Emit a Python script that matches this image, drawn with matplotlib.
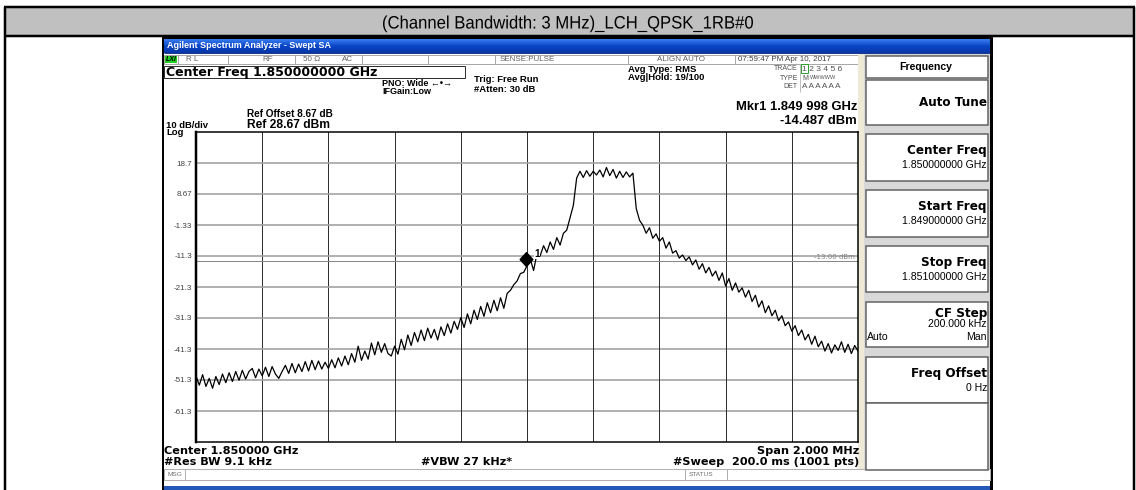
import matplotlib
matplotlib.use('Agg')
import matplotlib.pyplot as plt
import numpy as np
from matplotlib.patches import Rectangle, PathPatch
from matplotlib.path import Path
from matplotlib.markers import MarkerStyle
from matplotlib.textpath import TextPath
from matplotlib.font_manager import FontProperties
from matplotlib.transforms import Affine2D

# ---------------- data ----------------
title_text = "(Channel Bandwidth: 3 MHz)_LCH_QPSK_1RB#0"
start_ghz = 1.849
stop_ghz = 1.851
ref_level = 28.67
db_per_div = 10
n_div = 10
display_line_dbm = -13.00
marker_freq_ghz = 1.849998
marker_dbm = -14.487

ytick_values = [18.67, 8.67, -1.33, -11.33, -21.33, -31.33, -41.33, -51.33, -61.33]
ytick_labels = ["18.7", "8.67", "-1.33", "-11.3", "-21.3", "-31.3", "-41.3", "-51.3", "-61.3"]

# trace levels (dBm) read every 10 kHz from 1.849 GHz to 1.851 GHz
trace_left = [
    -50.0, -53.0, -49.6, -53.4, -50.8, -54.0, -50.2, -52.8, -49.4, -52.2,
    -49.0, -51.8, -48.6, -51.4, -48.2, -51.0, -48.6, -47.6, -50.6, -47.8,
    -50.0, -47.2, -50.2, -47.0, -49.4, -50.8, -48.6, -46.6, -49.2, -46.0,
    -49.0, -46.2, -48.6, -45.4, -48.4, -45.0, -48.0, -45.2, -47.8, -45.6,
    -47.6, -44.8, -47.4, -44.2, -46.8, -43.6, -46.4, -42.8, -45.6, -40.4,
    -45.0, -42.0, -44.6, -39.4, -43.2, -39.0, -42.4, -39.6, -42.8, -43.6,
    -40.4, -43.0, -38.2, -41.6, -36.8, -40.2, -36.0, -39.0, -35.2, -38.6,
    -34.6, -37.8, -35.0, -38.4, -34.2, -37.0, -33.2, -36.2, -32.4, -35.0,
    -31.2, -34.4, -30.0, -33.2, -28.8, -31.8, -27.6, -30.8, -26.4, -29.6,
    -25.6, -29.0, -24.8, -28.2, -23.4, -22.4, -20.6, -19.4, -17.0, -16.6,
]
trace_centre = [
    -14.5, -12.4, -16.0, -10.6, -11.2, -8.0, -10.2, -6.8, -9.2, -5.4,
    -7.8, -4.0, -3.0, 1.0, 5.0, 13.8, 16.0, 14.0, 16.2, 14.4,
    16.0, 14.8, 16.4, 14.2, 17.2, 14.6, 16.6, 13.8, 16.0, 14.0,
    15.8, 14.2, 15.4, 4.0, 0.2, -1.4, -4.0, -2.2, -5.6, -4.2,
]
trace_right = [
    -6.6, -5.4, -8.8, -6.8, -10.4, -9.6, -12.0, -11.0, -12.8, -11.6,
    -14.2, -12.6, -15.6, -13.8, -16.8, -15.0, -17.8, -16.2, -19.2, -16.8,
    -21.0, -18.6, -22.4, -20.0, -23.0, -21.6, -24.6, -22.4, -26.0, -24.0,
    -27.8, -25.8, -29.6, -27.4, -30.6, -28.8, -32.2, -30.6, -33.8, -32.6,
    -35.6, -33.8, -37.0, -35.2, -38.4, -36.6, -39.8, -37.2, -40.6, -38.8,
    -42.0, -39.6, -42.6, -40.0, -41.8, -39.0, -42.4, -39.8, -42.8, -40.2,
    -42.0,
]
trace_dbm = trace_left + trace_centre + trace_right
trace_freq = np.linspace(start_ghz, stop_ghz, len(trace_dbm))

# ---------------- figure ----------------
W, H = 1136, 490
fig = plt.figure(figsize=(W / 100, H / 100), dpi=100)
fig.patch.set_facecolor('white')
bg = fig.add_axes([0, 0, 1, 1])
bg.set_xlim(0, W)
bg.set_ylim(H, 0)
bg.axis('off')

def pt(p):
    return p * 0.72

def T(x, y, s, size, weight='normal', ha='left', va='center', color='black',
      family='DejaVu Sans', **kw):
    return bg.text(x, y, s, fontsize=pt(size), fontweight=weight, ha=ha, va=va,
                   color=color, family=family, zorder=5, **kw)

def R(x0, y0, x1, y1, fc='none', ec='none', lw=1.0, z=1):
    bg.add_patch(Rectangle((x0, y0), x1 - x0, y1 - y0, facecolor=fc,
                           edgecolor=ec, linewidth=pt(lw), zorder=z))

def L(x0, y0, x1, y1, color='black', lw=1.0, z=2):
    bg.plot([x0, x1], [y0, y1], color=color, lw=pt(lw), zorder=z,
            solid_capstyle='butt')

# outer table
R(5, 7, 1134, 36, fc='#c0c0c0', z=1)
L(4, 7, 1135, 7, lw=2.5)
L(4, 36, 1135, 36, lw=2.5)
L(5, 7, 5, 490, lw=2.5)
L(1134, 7, 1134, 490, lw=2.5)

# condensed title (horizontally squeezed text path)
tp = TextPath((0, 0), title_text, size=18, prop=FontProperties(family='Liberation Sans'))
ext = tp.get_extents()
target_w = 370.0
sx = target_w / ext.width
tr = Affine2D().translate(-ext.x0 - ext.width / 2, 0).scale(sx, -1).translate(568, 28.5)
bg.add_patch(PathPatch(tr.transform_path(tp), facecolor='black', edgecolor='none',
                       lw=0, zorder=5))

# screenshot frame
R(162, 37, 993, 490, fc='black', z=1)
R(164, 53, 990, 487, fc='white', z=1)
grad = np.linspace(0, 1, 50).reshape(-1, 1)
cmap = matplotlib.colors.LinearSegmentedColormap.from_list('b', ['#3a7ef0', '#0a46c8', '#0836a8'])
bg.imshow(grad, extent=(164, 990, 53, 39), aspect='auto', cmap=cmap, zorder=2)
T(167, 46, "Agilent Spectrum Analyzer - Swept SA", 9, weight='bold', color='white',
  family='Liberation Sans')
L(164, 53, 990, 53, color='#1a3a8a', lw=1)

# status row
R(164, 55, 858, 64, fc='white', ec='#a8a8a8', lw=1, z=2)
for xs in [178, 228, 295, 362, 428, 495, 628, 735]:
    L(xs, 55, xs, 64, color='#a8a8a8', lw=1, z=3)
R(165, 56, 177, 63, fc='#22d022', z=3)
T(166, 59.7, "LXI", 7, weight='bold', style='italic', family='Liberation Sans')
T(186, 59.7, "R L", 8, color='#606060', family='Liberation Sans')
T(262, 59.7, "RF", 8, color='#606060', family='Liberation Sans')
T(303, 59.7, "50 Ω", 8, color='#606060', family='Liberation Sans')
T(342, 59.7, "AC", 8, color='#606060', family='Liberation Sans')
T(500, 59.7, "SENSE:PULSE", 8, color='#606060', family='Liberation Sans')
T(657, 59.7, "ALIGN AUTO", 8, color='#606060', family='Liberation Sans')
T(738, 59.7, "07:59:47 PM Apr 10, 2017", 8, color='#404040', family='Liberation Sans')

# header texts
R(164, 66, 465, 78, fc='white', ec='#303030', lw=1, z=2)
T(166, 72.3, "Center Freq 1.850000000 GHz", 12.5, weight='bold')
T(382, 83, "PNO: Wide ←•→", 9, weight='bold', family='Liberation Sans')
T(382, 92, "IFGain:Low", 9, weight='bold', family='Liberation Sans')
T(474, 79, "Trig: Free Run", 9.5, weight='bold', family='Liberation Sans')
T(474, 90, "#Atten: 30 dB", 9.5, weight='bold', family='Liberation Sans')
T(628, 69, "Avg Type: RMS", 9.5, weight='bold', family='Liberation Sans')
T(628, 78, "Avg|Hold: 19/100", 9.5, weight='bold', family='Liberation Sans')

# trace info block
L(800, 64, 800, 92, color='#c0c0c0', lw=1)
T(798, 69, "TRACE", 7, ha='right', color='#505050', family='Liberation Sans')
T(798, 78, "TYPE", 7, ha='right', color='#505050', family='Liberation Sans')
T(798, 87, "DET", 7, ha='right', color='#505050', family='Liberation Sans')
R(801, 64.5, 808, 73.5, fc='none', ec='#30a030', lw=1, z=3)
T(802, 69.3, "1 2 3 4 5 6", 8.5, color='#505050', family='Liberation Sans')
T(802, 78, "M", 7, color='#505050', family='Liberation Sans')
T(810, 77.6, "WWWWW", 5.5, color='#505050', family='Liberation Sans')
T(802, 87, "A A A A A A", 8, color='#505050', family='Liberation Sans')

T(857, 107, "Mkr1 1.849 998 GHz", 13, weight='bold', ha='right', family='Liberation Sans')
T(857, 121, "-14.487 dBm", 13, weight='bold', ha='right', family='Liberation Sans')

T(247, 114, "Ref Offset 8.67 dB", 10, weight='bold', family='Liberation Sans')
T(247, 124.5, "Ref 28.67 dBm", 12, weight='bold', family='Liberation Sans')
T(166, 125, "10 dB/div", 9.5, weight='bold', family='Liberation Sans')
T(166, 132.5, "Log", 9.5, weight='bold', family='Liberation Sans')

# bottom texts
T(164, 451, "Center 1.850000 GHz", 11.2, weight='bold')
T(164, 462, "#Res BW 9.1 kHz", 11.2, weight='bold')
T(421, 462, "#VBW 27 kHz*", 11.2, weight='bold')
T(859, 451, "Span 2.000 MHz", 11.2, weight='bold', ha='right')
T(859, 462, "#Sweep  200.0 ms (1001 pts)", 11.2, weight='bold', ha='right')

# msg row
R(164, 469, 990, 480, fc='white', ec='#b0b0b0', lw=1, z=2)
L(185, 469, 185, 480, color='#b0b0b0')
L(685, 469, 685, 480, color='#b0b0b0')
L(727, 469, 727, 480, color='#b0b0b0')
T(167, 474.7, "MSG", 6.5, color='#707070', family='Liberation Sans')
T(689, 474.7, "STATUS", 6.5, color='#707070', family='Liberation Sans')
R(164, 486, 990, 490, fc='#2458b8', z=2)

# softkey panel
R(858, 54, 865, 469, fc='#efe9d8', z=2)
R(864, 54, 990, 469, fc='#d8d8d8', z=2)
boxes = [(56, 78), (80, 125), (134, 181), (190, 237), (246, 292), (302, 347),
         (357, 403), (403, 470)]
for y0, y1 in boxes:
    R(865.5, y0, 988, y1, fc='white', ec='#606060', lw=1.5, z=3)
T(926, 67, "Frequency", 10.5, weight='bold', ha='center', family='Liberation Sans')
T(987, 102, "Auto Tune", 12, weight='bold', ha='right')
key_titles = [("Center Freq", "1.850000000 GHz", 150), ("Start Freq", "1.849000000 GHz", 206),
              ("Stop Freq", "1.851000000 GHz", 262)]
for a, b, y in key_titles:
    T(987, y, a, 12, weight='bold', ha='right')
    T(987, y + 15, b, 10.5, ha='right', family='Liberation Sans')
T(987, 313, "CF Step", 12, weight='bold', ha='right')
T(987, 324, "200.000 kHz", 10.5, ha='right', family='Liberation Sans')
T(867, 337, "Auto", 10.5, family='Liberation Sans')
L(867, 342, 889, 342, lw=1)
T(987, 337, "Man", 10.5, ha='right', family='Liberation Sans')
T(987, 373, "Freq Offset", 12, weight='bold', ha='right')
T(987, 388, "0 Hz", 10.5, ha='right', family='Liberation Sans')

# ---------------- plot area ----------------
x0p, y0p, x1p, y1p = 196, 132, 858, 442
ax = fig.add_axes([x0p / W, 1 - y1p / H, (x1p - x0p) / W, (y1p - y0p) / H], zorder=10)
ax.set_facecolor('white')
bottom = ref_level - db_per_div * n_div
ax.set_xlim(start_ghz, stop_ghz)
ax.set_ylim(bottom, ref_level)
for k in range(1, n_div):
    ax.axhline(bottom + k * db_per_div, color='#a0a0a0', lw=pt(1.6), zorder=1)
    ax.axvline(start_ghz + k * (stop_ghz - start_ghz) / n_div, color='#303030',
               lw=pt(1.0), zorder=1)
ax.axhline(display_line_dbm, color='#888888', lw=pt(1.0), zorder=1)
ax.text(stop_ghz - 0.00001, display_line_dbm + 1.2, "-13.00 dBm", fontsize=pt(7),
        color='#808080', ha='right', va='center', zorder=2)
ax.plot(trace_freq, trace_dbm, color='black', lw=pt(1.25), zorder=3)

verts = [(0, 0), (-1.0, 1.1), (0, 2.2), (1.0, 1.1), (0, 0)]
mk = MarkerStyle(Path(verts, [Path.MOVETO, Path.LINETO, Path.LINETO, Path.LINETO, Path.CLOSEPOLY]))
ax.plot([marker_freq_ghz], [marker_dbm], marker=mk, markersize=20, color='black',
        linestyle='none', zorder=4)
ax.annotate("1", (marker_freq_ghz, marker_dbm), xytext=(8, 12), textcoords='offset pixels',
            fontsize=pt(10), fontweight='bold', ha='left', va='center', zorder=5,
            family='Liberation Sans',
            bbox=dict(boxstyle='square,pad=0.05', fc='white', ec='none'))

ax.set_xticks([])
ax.set_yticks(ytick_values)
ax.set_yticklabels(ytick_labels, fontsize=pt(8), color='#404040', family='Liberation Sans')
ax.tick_params(axis='y', length=0, pad=pt(4))
for s in ['top', 'right', 'bottom']:
    ax.spines[s].set_linewidth(pt(1.5))
    ax.spines[s].set_color('black')
ax.spines['left'].set_linewidth(pt(2.5))

fig.savefig('out.png', dpi=100, facecolor='white')
